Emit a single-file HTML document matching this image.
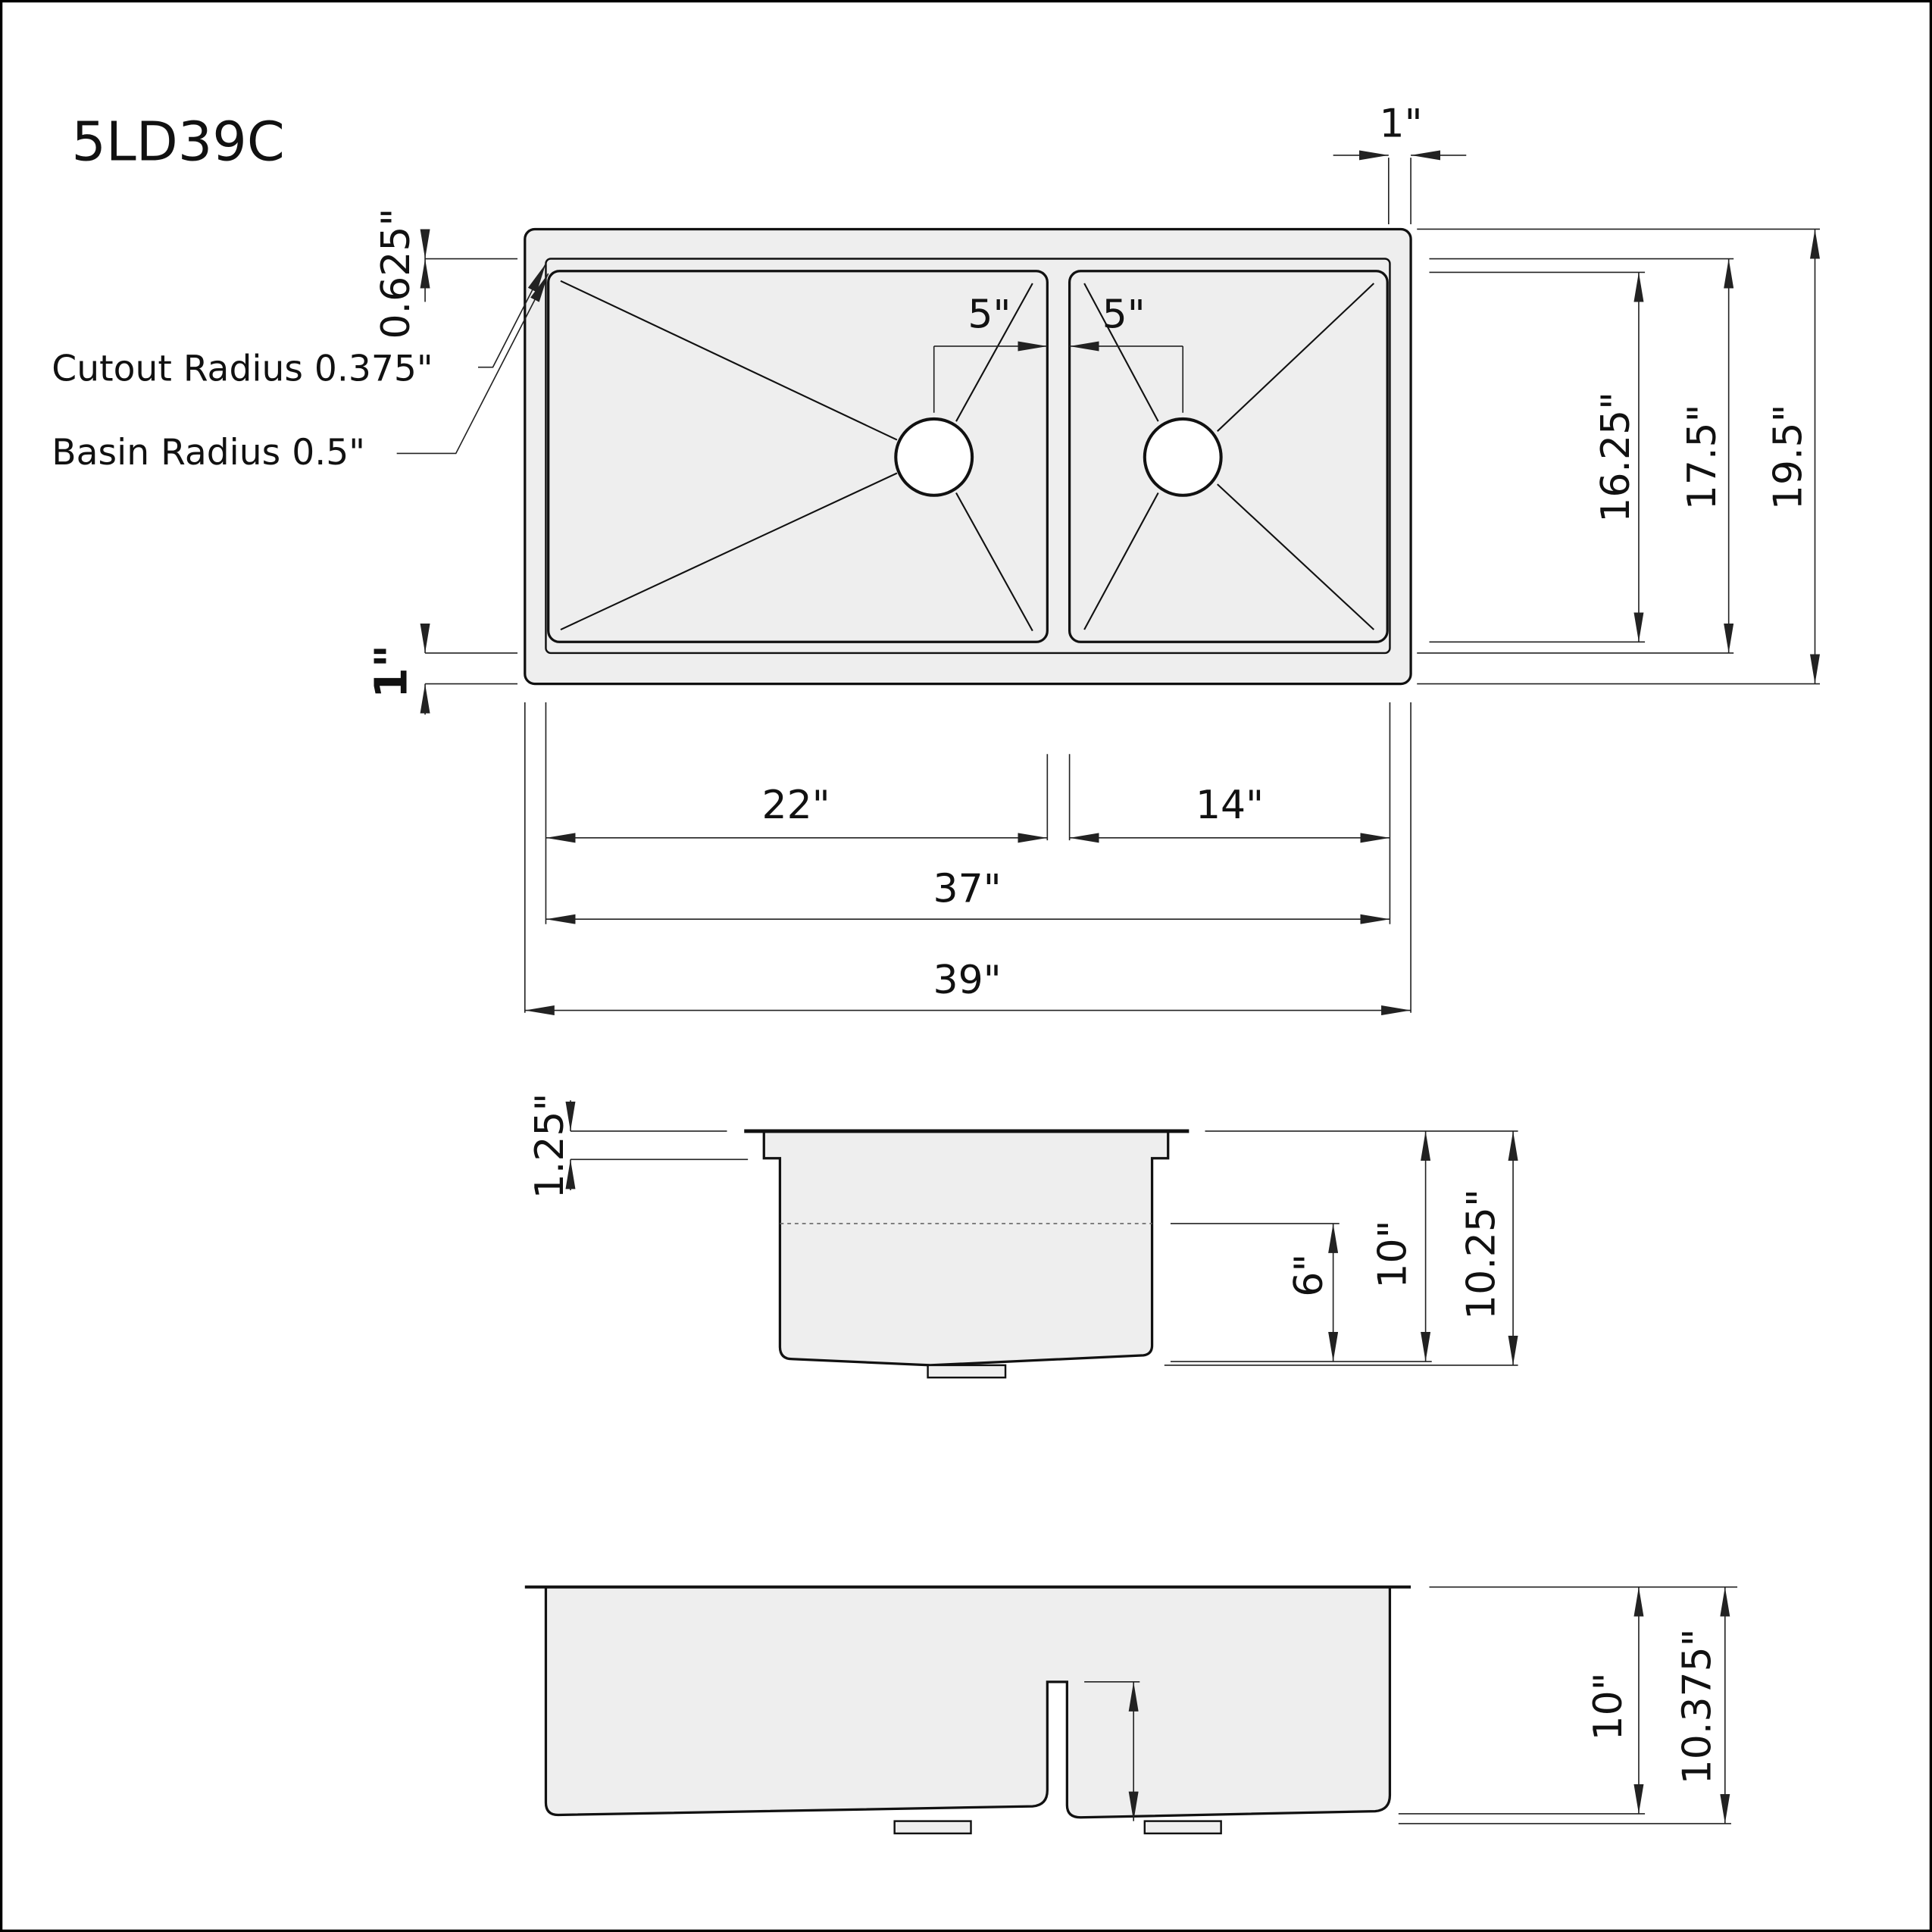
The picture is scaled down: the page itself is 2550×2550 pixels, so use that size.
<!DOCTYPE html>
<html><head><style>html,body{margin:0;padding:0;background:#fff}svg{display:block}</style></head>
<body>
<svg width="2550" height="2550" viewBox="0 0 1568 1568" xmlns="http://www.w3.org/2000/svg" font-family="'DejaVu Sans','Liberation Sans',sans-serif">
<defs>
<marker id="a" viewBox="0 0 24 8" refX="24" refY="4" markerWidth="24" markerHeight="8" markerUnits="userSpaceOnUse" orient="auto-start-reverse"><path d="M0,0 L24,4 L0,8 Z" fill="#222"/></marker>
</defs>
<rect x="1" y="1" width="1566" height="1566" fill="#fff" stroke="#000" stroke-width="2"/>
<text x="58" y="130" font-size="44" fill="#111">5LD39C</text>

<g stroke="#111" fill="#eee" stroke-width="2">
<rect x="426" y="186" width="719" height="369" rx="8"/>
<rect x="443" y="210" width="685" height="320" rx="4" stroke-width="1.5"/>
<rect x="445" y="220" width="405" height="301" rx="9"/>
<rect x="868" y="220" width="258" height="301" rx="9"/>
</g>
<g stroke="#111" stroke-width="1.3">
<line x1="455" y1="228" x2="728" y2="357"/><line x1="455" y1="511" x2="728" y2="384"/>
<line x1="838" y1="512" x2="776" y2="400"/><line x1="838" y1="230" x2="776" y2="342"/>
<line x1="880" y1="230" x2="940" y2="342"/><line x1="880" y1="511" x2="940" y2="400"/>
<line x1="1115" y1="230" x2="988" y2="350"/><line x1="1115" y1="511" x2="988" y2="393"/>
</g>
<circle cx="758" cy="371" r="31" fill="#fff" stroke="#111" stroke-width="2.5"/>
<circle cx="960" cy="371" r="31" fill="#fff" stroke="#111" stroke-width="2.5"/>

<g stroke="#222" stroke-width="1" fill="none">
<line x1="758" y1="281" x2="758" y2="335"/><line x1="758" y1="281" x2="850" y2="281" marker-end="url(#a)"/>
<line x1="960" y1="281" x2="960" y2="335"/><line x1="960" y1="281" x2="868" y2="281" marker-end="url(#a)"/>
<line x1="1127" y1="128" x2="1127" y2="182"/><line x1="1145" y1="128" x2="1145" y2="182"/>
<line x1="1082" y1="126" x2="1127" y2="126" marker-end="url(#a)"/><line x1="1190" y1="126" x2="1145" y2="126" marker-end="url(#a)"/>
<line x1="1150" y1="186" x2="1477" y2="186"/><line x1="1160" y1="210" x2="1407" y2="210"/><line x1="1160" y1="221" x2="1335" y2="221"/>
<line x1="1160" y1="521" x2="1335" y2="521"/><line x1="1150" y1="530" x2="1407" y2="530"/><line x1="1150" y1="555" x2="1477" y2="555"/>
<line x1="1330" y1="221" x2="1330" y2="521" marker-start="url(#a)" marker-end="url(#a)"/>
<line x1="1403" y1="210" x2="1403" y2="530" marker-start="url(#a)" marker-end="url(#a)"/>
<line x1="1473" y1="186" x2="1473" y2="555" marker-start="url(#a)" marker-end="url(#a)"/>
<line x1="345" y1="210" x2="420" y2="210"/>
<line x1="345" y1="186" x2="345" y2="210" marker-end="url(#a)"/><line x1="345" y1="245" x2="345" y2="210" marker-end="url(#a)"/>
<line x1="345" y1="530" x2="420" y2="530"/><line x1="345" y1="555" x2="420" y2="555"/>
<line x1="345" y1="510" x2="345" y2="530" marker-end="url(#a)"/><line x1="345" y1="580" x2="345" y2="555" marker-end="url(#a)"/>
<polyline points="388,298 400,298 443,214" marker-end="url(#a)"/>
<polyline points="322,368 370,368 445,222" marker-end="url(#a)"/>
<line x1="426" y1="570" x2="426" y2="822"/><line x1="443" y1="570" x2="443" y2="750"/>
<line x1="850" y1="612" x2="850" y2="682"/><line x1="868" y1="612" x2="868" y2="682"/>
<line x1="1128" y1="570" x2="1128" y2="750"/><line x1="1145" y1="570" x2="1145" y2="822"/>
<line x1="443" y1="680" x2="850" y2="680" marker-start="url(#a)" marker-end="url(#a)"/>
<line x1="868" y1="680" x2="1128" y2="680" marker-start="url(#a)" marker-end="url(#a)"/>
<line x1="443" y1="746" x2="1128" y2="746" marker-start="url(#a)" marker-end="url(#a)"/>
<line x1="426" y1="820" x2="1145" y2="820" marker-start="url(#a)" marker-end="url(#a)"/>
</g>
<g font-size="32" fill="#111" text-anchor="middle">
<text x="803" y="266">5"</text><text x="912" y="266">5"</text>
<text x="1137" y="111">1"</text>
<text x="646" y="664">22"</text><text x="998" y="664">14"</text>
<text x="785" y="732">37"</text><text x="785" y="806">39"</text>
<text transform="translate(1322,371) rotate(-90)">16.25"</text>
<text transform="translate(1392,371) rotate(-90)">17.5"</text>
<text transform="translate(1462,371) rotate(-90)">19.5"</text>
<text transform="translate(332,222) rotate(-90)">0.625"</text>
<text transform="translate(330,545) rotate(-90)" font-weight="bold" font-size="36">1"</text>
<text transform="translate(457,930) rotate(-90)">1.25"</text>
<text transform="translate(1073,1035) rotate(-90)">6"</text>
<text transform="translate(1141,1018) rotate(-90)">10"</text>
<text transform="translate(1213,1018) rotate(-90)">10.25"</text>
<text transform="translate(906,1408) rotate(-90)">6"</text>
<text transform="translate(1316,1385) rotate(-90)">10"</text>
<text transform="translate(1388,1385) rotate(-90)">10.375"</text>
</g>
<g font-size="29" fill="#111">
<text x="42" y="309">Cutout Radius 0.375"</text>
<text x="42" y="377">Basin Radius 0.5"</text>
</g>

<path d="M620,918 L620,940 L633,940 L633,1093 Q633,1103 643,1103 L755,1108 L928,1100 Q935,1099 935,1092 L935,940 L948,940 L948,918 Z" fill="#eee" stroke="#111" stroke-width="2"/>
<line x1="604" y1="918" x2="965" y2="918" stroke="#111" stroke-width="3"/>
<rect x="753" y="1108" width="63" height="10" fill="#eee" stroke="#111" stroke-width="1.5"/>
<line x1="633" y1="993" x2="935" y2="993" stroke="#666" stroke-width="1" stroke-dasharray="3,3"/>
<g stroke="#222" stroke-width="1" fill="none">
<line x1="463" y1="918" x2="590" y2="918"/><line x1="463" y1="941" x2="607" y2="941"/>
<line x1="463" y1="893" x2="463" y2="918" marker-end="url(#a)"/><line x1="463" y1="966" x2="463" y2="941" marker-end="url(#a)"/>
<line x1="978" y1="918" x2="1232" y2="918"/>
<line x1="950" y1="993" x2="1087" y2="993"/>
<line x1="950" y1="1105" x2="1162" y2="1105"/><line x1="945" y1="1108" x2="1232" y2="1108"/>
<line x1="1082" y1="993" x2="1082" y2="1105" marker-start="url(#a)" marker-end="url(#a)"/>
<line x1="1157" y1="918" x2="1157" y2="1105" marker-start="url(#a)" marker-end="url(#a)"/>
<line x1="1228" y1="918" x2="1228" y2="1108" marker-start="url(#a)" marker-end="url(#a)"/>
</g>

<path d="M443,1288 L443,1463 Q443,1473 453,1473 L838,1466 Q850,1465 850,1453 L850,1365 L866,1365 L866,1465 Q866,1475 877,1475 L1116,1470 Q1128,1469 1128,1457 L1128,1288 Z" fill="#eee" stroke="#111" stroke-width="2"/>
<line x1="426" y1="1288" x2="1145" y2="1288" stroke="#111" stroke-width="2.5"/>
<rect x="726" y="1478" width="62" height="10" fill="#eee" stroke="#111" stroke-width="1.5"/>
<rect x="929" y="1478" width="62" height="10" fill="#eee" stroke="#111" stroke-width="1.5"/>
<g stroke="#222" stroke-width="1" fill="none">
<line x1="880" y1="1365" x2="925" y2="1365"/>
<line x1="920" y1="1365" x2="920" y2="1478" marker-start="url(#a)" marker-end="url(#a)"/>
<line x1="1160" y1="1288" x2="1410" y2="1288"/>
<line x1="1135" y1="1472" x2="1335" y2="1472"/><line x1="1135" y1="1480" x2="1405" y2="1480"/>
<line x1="1330" y1="1288" x2="1330" y2="1472" marker-start="url(#a)" marker-end="url(#a)"/>
<line x1="1400" y1="1288" x2="1400" y2="1480" marker-start="url(#a)" marker-end="url(#a)"/>
</g>
</svg>
</body></html>
